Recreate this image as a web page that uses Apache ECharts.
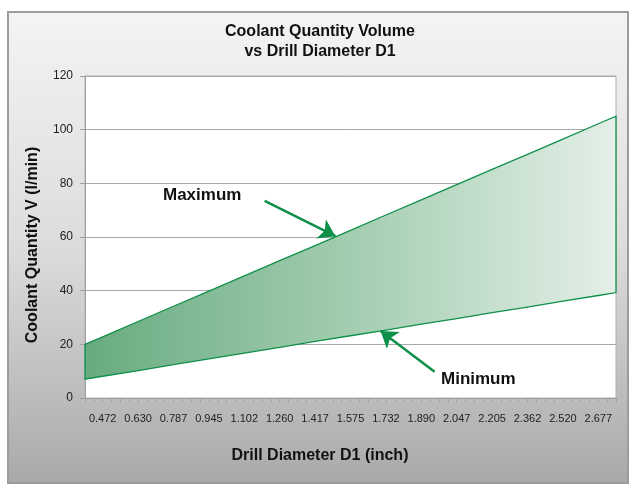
<!DOCTYPE html>
<html>
<head>
<meta charset="utf-8">
<script src="https://cdn.jsdelivr.net/npm/echarts@6/dist/echarts.min.js"></script>
<style>
  html, body { margin: 0; padding: 0; background: #fff; }
  #coolant_chart { width: 630px; height: 487px; }
</style>
</head>
<body>
<div id="coolant_chart"></div>
<script>
// drill diameter in mm (x axis runs 10..70 mm, labelled in inch)
var diameterMM = [10, 12, 16, 20, 24, 28, 32, 36, 40, 44, 48, 52, 56, 60, 64, 68, 70];
var maxVolume = [20, 22.8, 28.5, 34.2, 39.8, 45.5, 51.2, 56.8, 62.5, 68.2, 73.8, 79.5, 85.2, 90.8, 96.5, 102.2, 105];
var minVolume = [7, 8.1, 10.2, 12.4, 14.6, 16.7, 18.9, 21.1, 23.2, 25.3, 27.5, 29.6, 31.8, 33.9, 36.1, 38.2, 39.3];
// tick labels (inch) and where they sit (mm)
var tickMM = [12, 16, 20, 24, 28, 32, 36, 40, 44, 48, 52, 56, 60, 64, 68];
var tickLabels = ['0.472', '0.630', '0.787', '0.945', '1.102', '1.260', '1.417', '1.575',
                  '1.732', '1.890', '2.047', '2.205', '2.362', '2.520', '2.677'];
// arrows: [tail, head] in [mm, l/min]
var maxArrow = [[30.3, 73.5], [38.3, 60.3]];
var minArrow = [[49.5, 9.8], [43.4, 25.0]];

var green = '#0e9049';
var boldFont = 'bold 16px "Liberation Sans", Arial';
var chart = echarts.init(document.getElementById('coolant_chart'));

var option = {
  animation: false,
  graphic: [
    { // outer frame
      type: 'rect', z: -10, silent: true,
      shape: { x: 8, y: 12, width: 620, height: 471 },
      style: {
        fill: new echarts.graphic.LinearGradient(0, 0, 0, 1, [
          { offset: 0, color: '#f4f4f4' },
          { offset: 0.5, color: '#dcdcdc' },
          { offset: 1, color: '#a9a9a9' }
        ]),
        stroke: '#9c9c9c', lineWidth: 2
      }
    },
    { // chart title
      type: 'text', x: 320, y: 22, z: 10,
      style: {
        text: 'Coolant Quantity Volume\nvs Drill Diameter D1',
        font: boldFont, lineHeight: 20, fill: '#111', align: 'center', verticalAlign: 'top'
      }
    },
    {
      type: 'text', left: 163, top: 187, z: 10,
      style: { text: 'Maximum', font: 'bold 17px "Liberation Sans", Arial', fill: '#111' }
    },
    {
      type: 'text', left: 441, top: 371, z: 10,
      style: { text: 'Minimum', font: 'bold 17px "Liberation Sans", Arial', fill: '#111' }
    },
    { // x axis title
      type: 'text', x: 320, y: 456, z: 10,
      style: { text: 'Drill Diameter D1 (inch)', font: boldFont, fill: '#111', align: 'center', verticalAlign: 'middle' }
    },
    { // y axis title
      type: 'text', x: 33, y: 245, rotation: Math.PI / 2, z: 10,
      style: { text: 'Coolant Quantity V (l/min)', font: boldFont, fill: '#111', align: 'center', verticalAlign: 'middle' }
    }
  ],
  grid: {
    left: 85, right: 14, top: 76, bottom: 89,
    show: true, backgroundColor: '#fff', borderColor: '#b0b0b0', borderWidth: 1
  },
  xAxis: {
    type: 'value', min: 10, max: 70, interval: 1,
    axisLine: { show: true, lineStyle: { color: '#a0a0a0', width: 1 } },
    axisTick: { show: true, length: 4, lineStyle: { color: '#a0a0a0' } },
    splitLine: { show: false },
    axisLabel: {
      margin: 15, color: '#222', fontSize: 11,
      fontFamily: '"Liberation Sans Narrow", "Liberation Sans", Arial',
      formatter: function (v) {
        var i = tickMM.indexOf(Math.round(v));
        return i >= 0 ? tickLabels[i] : '';
      }
    }
  },
  yAxis: {
    type: 'value', min: 0, max: 120, interval: 20,
    axisLine: { show: true, lineStyle: { color: '#a0a0a0', width: 1 } },
    axisTick: { show: true, length: 5, lineStyle: { color: '#a0a0a0' } },
    splitLine: { show: true, lineStyle: { color: '#a8a8a8', width: 1 } },
    axisLabel: { margin: 12, color: '#222', fontSize: 12, fontFamily: '"Liberation Sans", Arial' }
  },
  series: [
    {
      type: 'custom',
      data: [0],
      z: 3,
      renderItem: function (params, api) {
        var pts = [];
        for (var i = 0; i < diameterMM.length; i++) {
          pts.push(api.coord([diameterMM[i], maxVolume[i]]));
        }
        for (var j = diameterMM.length - 1; j >= 0; j--) {
          pts.push(api.coord([diameterMM[j], minVolume[j]]));
        }
        return {
          type: 'polygon',
          shape: { points: pts },
          style: {
            fill: new echarts.graphic.LinearGradient(0, 0, 1, 0, [
              { offset: 0, color: '#68ab80' },
              { offset: 0.5, color: '#a3cdb0' },
              { offset: 1, color: '#e4efe8' }
            ]),
            stroke: green, lineWidth: 1.3
          }
        };
      }
    },
    {
      type: 'line',
      data: [],
      z: 5,
      markLine: {
        silent: true,
        symbol: ['none', 'arrow'],
        symbolSize: 16,
        label: { show: false },
        lineStyle: { color: green, width: 2.5, type: 'solid' },
        data: [
          [{ coord: maxArrow[0] }, { coord: maxArrow[1] }],
          [{ coord: minArrow[0] }, { coord: minArrow[1] }]
        ]
      }
    }
  ]
};
chart.setOption(option);
</script>
</body>
</html>
